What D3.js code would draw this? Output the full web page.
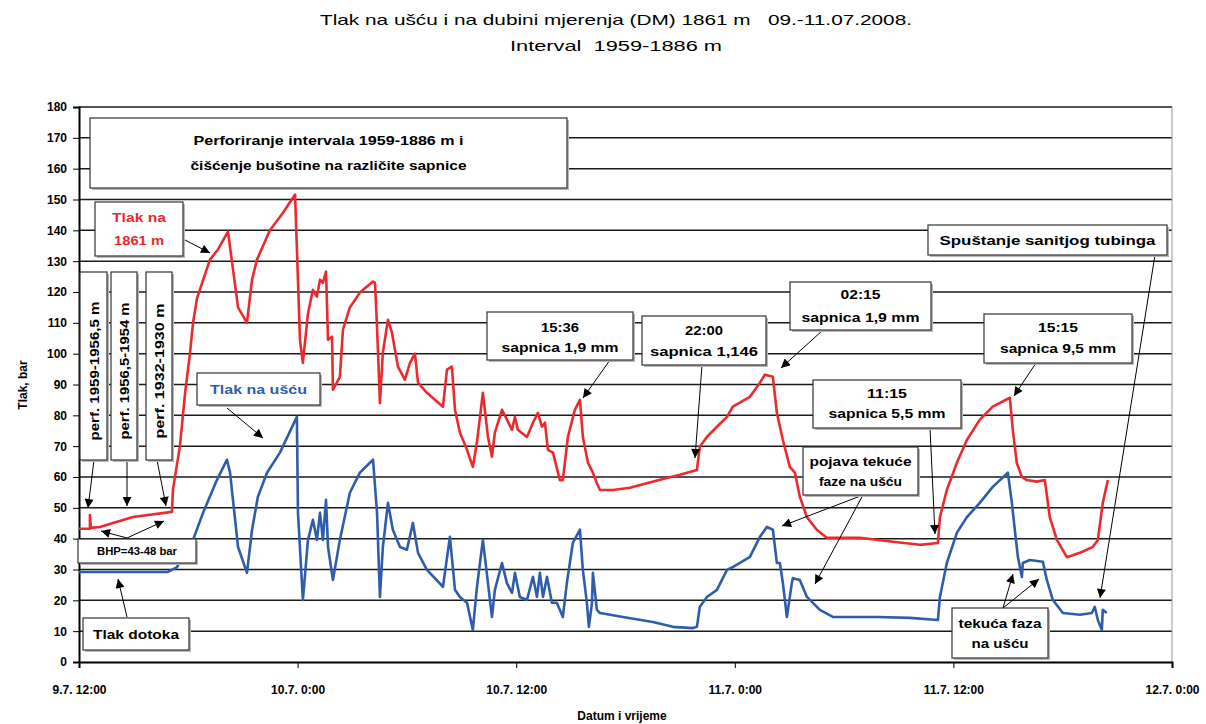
<!DOCTYPE html>
<html>
<head>
<meta charset="utf-8">
<script src="https://cdn.jsdelivr.net/npm/d3@7"></script>
<style>
body { margin: 0; background: #fff; }
text { font-family: "Liberation Sans", Arial, sans-serif; }
</style>
</head>
<body>
<svg id="chart" width="1206" height="724"></svg>
<script>
// hours after 9.7.2008 12:00, pressure in bar
var redHours = [0, 0.6, 0.6, 0.65, 1.15, 2.96, 5.1, 5.16, 5.54, 5.82, 6.09, 6.26, 6.48, 7.19, 7.63, 8.18, 8.73, 9.22, 9.5, 9.77,
  10.48, 11.2, 11.86, 12.02, 12.13, 12.29, 12.57, 12.84, 13.06, 13.23, 13.39, 13.56, 13.67, 13.89, 13.94, 14.32, 14.49, 14.87, 15.42, 16.14,
  16.25, 16.36, 16.52, 16.68, 16.96, 17.18, 17.51, 17.89, 18.17, 18.44, 18.61, 19.1, 19.98, 20.2, 20.47, 20.64, 20.91, 21.3, 21.62, 21.84,
  22.17, 22.45, 22.67, 22.83, 23.22, 23.49, 23.77, 23.93, 24.09, 24.59, 24.92, 25.19, 25.41, 25.58, 25.74, 26.02, 26.4, 26.56, 26.84, 27.22,
  27.5, 27.66, 27.94, 28.21, 28.43, 28.6, 29.31, 30.24, 31.17, 32.27, 32.99, 33.92, 34.08, 34.47, 35.02, 35.57, 35.89, 36.83, 37.38, 37.65,
  38.09, 38.31, 38.64, 39.02, 39.3, 39.57, 39.96, 40.5, 41.05, 42.87, 44.68, 46.16, 47.15, 47.26, 47.64, 48.19, 48.74, 49.45, 50.16, 51.1,
  51.26, 51.48, 51.76, 52.03, 52.58, 53.02, 53.29, 53.68, 54.23, 54.94, 55.65, 55.93, 56.2, 56.48];
var redValues = [43.2, 43.2, 47.7, 43.5, 43.8, 47, 48.7, 56, 70, 87, 100, 110, 118, 130.5, 133.8, 139.6, 115, 110, 124, 130.5,
  140, 145.7, 151.6, 124, 104.5, 97, 113, 120.7, 118.5, 124, 123, 126.6, 104.5, 105.5, 88.3, 92.5, 107.8, 115, 119.8, 123.4,
  123, 108.8, 84, 100.3, 111, 106.8, 95.8, 91.6, 97, 100, 90.6, 87.3, 82.8, 94.8, 95.8, 81.8, 74.4, 68.8, 63.3, 71,
  87.3, 73, 66.6, 74.4, 81.8, 78.6, 75.3, 79.5, 75.3, 73, 77.6, 80.8, 76.3, 77.6, 68.8, 67.9, 59, 59, 73, 81.8,
  85, 73, 64.6, 61.4, 58, 55.8, 55.8, 56.5, 58, 59.7, 60.7, 62.3, 69.8, 73, 76.3, 79.5, 82.8, 86, 90.6, 93.2,
  92.5, 80.8, 72, 63.3, 61.4, 53.6, 47, 42.9, 40.3, 40.3, 39, 38, 38.6, 47, 55.8, 64.6, 72, 78.6, 82.8, 85.7,
  75.3, 64.6, 60, 59, 58.5, 59, 47, 39.6, 34, 35.4, 37.3, 39.6, 51.6, 59];

var blueHours = [0, 4.88, 5.38, 6.26, 6.81, 7.57, 8.12, 8.29, 8.73, 9.22, 9.5, 9.82, 10.32, 11.03, 11.96, 12.02, 12.29, 12.57, 12.84, 13.06,
  13.23, 13.39, 13.56, 13.67, 13.94, 14.32, 14.87, 15.42, 16.14, 16.36, 16.52, 16.68, 16.96, 17.23, 17.62, 18.0, 18.33, 18.61, 19.1, 19.98,
  20.36, 20.64, 20.91, 21.3, 21.62, 21.84, 22.17, 22.45, 22.67, 22.83, 23.22, 23.49, 23.77, 23.93, 24.2, 24.59, 24.92, 25.14, 25.3, 25.47,
  25.69, 25.96, 26.23, 26.56, 26.78, 27.11, 27.5, 27.66, 27.88, 27.99, 28.16, 28.21, 28.43, 28.6, 29.86, 31.5, 32.6, 33.7, 33.92, 34.08,
  34.47, 35.02, 35.57, 35.89, 36.83, 37.38, 37.76, 38.09, 38.31, 38.47, 38.64, 38.86, 39.13, 39.19, 39.57, 39.96, 40.67, 41.38, 43.8, 45.61,
  47.15, 47.26, 47.64, 48.19, 48.74, 49.45, 50.16, 50.99, 51.21, 51.37, 51.54, 51.76, 51.81, 52.19, 52.91, 53.13, 53.46, 54.01, 54.94, 55.6,
  55.76, 55.93, 56.15, 56.2, 56.42];
var blueValues = [29.2, 29.2, 30.8, 39.6, 48.4, 59, 65.6, 61.5, 37.3, 28.9, 42.9, 53.6, 61.4, 67.9, 79.5, 48.4, 20.1, 39.6, 46.1, 39.6,
  48.4, 39.6, 52.6, 37.3, 26.6, 39.6, 54.9, 61.4, 65.6, 48.4, 21.1, 37.3, 51.6, 42.9, 37.3, 36.4, 45.1, 35.4, 29.9, 24.4,
  40.6, 23.4, 21.1, 19.2, 10.4, 24, 39.6, 25.6, 14.6, 23.4, 32.1, 25.6, 22.4, 28.9, 21.1, 20.1, 27.6, 21.1, 28.9, 21.1,
  27.6, 19.2, 19.2, 14.6, 25.6, 38.6, 42.9, 29.9, 19.2, 11.4, 19.2, 28.9, 16.9, 15.9, 14.6, 13, 11.4, 11, 11.4, 17.9,
  21.1, 23.4, 29.9, 30.8, 34.1, 40.6, 43.8, 42.9, 32.1, 32.1, 25.6, 14.6, 25.6, 27.2, 26.6, 21.1, 16.9, 14.6, 14.6, 14.3,
  13.6, 21.1, 32.1, 41.9, 47, 51.6, 56.8, 61.4, 51.6, 42.9, 34.1, 27.6, 32.1, 33.1, 32.5, 26.6, 20.1, 15.9, 15.3, 15.9,
  17.9, 13.6, 10.4, 16.9, 15.9];

var yTicks = d3.range(0, 181, 10);
var xTickLabels = ["9.7. 12:00", "10.7. 0:00", "10.7. 12:00", "11.7. 0:00", "11.7. 12:00", "12.7. 0:00"];
var titleLines = ["Tlak na ušću i na dubini mjerenja (DM) 1861 m   09.-11.07.2008.", "Interval  1959-1886 m"];

var start = new Date(2008, 6, 9, 12, 0);
function hourDate(h) { return new Date(start.getTime() + h * 3600000); }

var svg = d3.select("#chart");
var x = d3.scaleTime().domain([start, new Date(2008, 6, 12, 0, 0)]).range([79, 1172]);
var y = d3.scaleLinear().domain([0, 180]).range([662, 107]);

// title
svg.selectAll(".title").data(titleLines).enter().append("text")
  .attr("x", 616).attr("y", function(d, i) { return 25 + i * 26; })
  .attr("text-anchor", "middle").attr("font-size", 15)
  .style("white-space", "pre")
  .attr("textLength", function(d, i) { return i == 0 ? 592 : 212; })
  .attr("lengthAdjust", "spacingAndGlyphs")
  .text(function(d) { return d; });

// grid
svg.append("g").selectAll("line").data(yTicks.slice(1)).enter().append("line")
  .attr("x1", 79).attr("x2", 1172)
  .attr("y1", function(d) { return y(d); }).attr("y2", function(d) { return y(d); })
  .attr("stroke", "#1a1a1a").attr("stroke-width", 1.5);
svg.append("line").attr("x1", 1172).attr("x2", 1172).attr("y1", y(180)).attr("y2", y(0))
  .attr("stroke", "#999").attr("stroke-width", 1);

// axes
var yAxis = d3.axisLeft(y).tickValues(yTicks).tickSize(6).tickFormat(d3.format("d"));
var gy = svg.append("g").attr("transform", "translate(79,0)").call(yAxis);
gy.select(".domain").attr("stroke-width", 2);
gy.selectAll("text").attr("font-size", 12).attr("font-weight", "bold").attr("dx", "-3")
  .style("font-family", "'Liberation Sans', Arial, sans-serif");

var xTicks = d3.range(0, 61, 12).map(hourDate);
var xAxis = d3.axisBottom(x).tickValues(xTicks).tickSize(6)
  .tickFormat(function(d, i) { return xTickLabels[i]; });
var gx = svg.append("g").attr("transform", "translate(0,662)").call(xAxis);
gx.select(".domain").attr("stroke-width", 2);
gx.selectAll("text").attr("font-size", 12).attr("font-weight", "bold").attr("dy", "1.9em")
  .style("font-family", "'Liberation Sans', Arial, sans-serif");

svg.append("text").attr("x", 622).attr("y", 720).attr("text-anchor", "middle")
  .attr("font-size", 12).attr("font-weight", "bold").text("Datum i vrijeme");
svg.append("text").attr("transform", "translate(27,385) rotate(-90)").attr("text-anchor", "middle")
  .attr("font-size", 12).attr("font-weight", "bold").text("Tlak, bar");

// series
var line = d3.line().x(function(d) { return x(hourDate(d[0])); }).y(function(d) { return y(d[1]); });
var redData = d3.zip(redHours, redValues);
var blueData = d3.zip(blueHours, blueValues);
svg.append("path").datum(blueData).attr("d", line).attr("fill", "none")
  .attr("stroke", "#2f5dac").attr("stroke-width", 2.6).attr("stroke-linejoin", "round");
svg.append("path").datum(redData).attr("d", line).attr("fill", "none")
  .attr("stroke", "#ec2a2e").attr("stroke-width", 2.6).attr("stroke-linejoin", "round");

// annotations
svg.append("defs").append("marker").attr("id", "arr")
  .attr("viewBox", "0 0 10 10").attr("refX", 10).attr("refY", 5)
  .attr("markerWidth", 11).attr("markerHeight", 9).attr("markerUnits", "userSpaceOnUse")
  .attr("orient", "auto")
  .append("path").attr("d", "M0,0L10,5L0,10Z").attr("fill", "#000");

var arrows = [
  [185, 240, 210, 253], [94, 460, 88, 508], [127, 460, 127, 506], [157, 460, 166, 506],
  [127, 538, 101, 531], [127, 538, 164, 521], [127, 617, 118, 579], [227, 408, 263, 438],
  [610, 360, 583, 398], [702, 365, 695, 458], [823, 330, 781, 368], [1155, 255, 1100, 598],
  [1036, 363, 1014, 396], [930, 428, 935, 534], [863, 495, 782, 526], [863, 495, 815, 584],
  [1003, 608, 1013, 574], [1003, 608, 1039, 579]
];

var boxes = [
  { x: 90, y: 118, w: 477, h: 70, lines: ["Perforiranje intervala 1959-1886 m i", "čišćenje bušotine na različite sapnice"], ly: [145, 170], lw: [270, 276] },
  { x: 95, y: 202, w: 88, h: 54, lines: ["Tlak na", "1861 m"], ly: [222, 245], lw: [54, 50], color: "#ec2a2e" },
  { x: 197, y: 373, w: 123, h: 32, lines: ["Tlak na ušću"], ly: [394], lw: [97], color: "#2f5dac" },
  { x: 487, y: 312, w: 146, h: 48, lines: ["15:36", "sapnica 1,9 mm"], ly: [332, 352], lw: [38, 117] },
  { x: 642, y: 316, w: 124, h: 49, lines: ["22:00", "sapnica 1,146"], ly: [335, 356], lw: [38, 108] },
  { x: 790, y: 282, w: 141, h: 48, lines: ["02:15", "sapnica 1,9 mm"], ly: [299, 322], lw: [40, 118] },
  { x: 928, y: 225, w: 239, h: 30, lines: ["Spuštanje sanitjog tubinga"], ly: [245], lw: [216] },
  { x: 984, y: 314, w: 148, h: 49, lines: ["15:15", "sapnica 9,5 mm"], ly: [332, 353], lw: [40, 116] },
  { x: 813, y: 380, w: 148, h: 48, lines: ["11:15", "sapnica 5,5 mm"], ly: [398, 418], lw: [40, 117] },
  { x: 803, y: 447, w: 115, h: 48, lines: ["pojava tekuće", "faze na ušću"], ly: [466, 486], lw: [102, 83] },
  { x: 952, y: 608, w: 96, h: 50, lines: ["tekuća faza", "na ušću"], ly: [628, 648], lw: [83, 57] },
  { x: 78, y: 539, w: 118, h: 24, lines: ["BHP=43-48 bar"], ly: [555], lw: [80], size: 10 },
  { x: 83, y: 618, w: 106, h: 32, lines: ["Tlak dotoka"], ly: [639], lw: [86] }
];

var vboxes = [
  { x: 80, w: 27, text: "perf. 1959-1956,5 m", len: 139 },
  { x: 111, w: 26, text: "perf. 1956,5-1954 m", len: 137 },
  { x: 146, w: 26, text: "perf. 1932-1930 m", len: 135 }
];

var ag = svg.append("g");
arrows.forEach(function(a) {
  ag.append("line").attr("x1", a[0]).attr("y1", a[1]).attr("x2", a[2]).attr("y2", a[3])
    .attr("stroke", "#000").attr("stroke-width", 1).attr("marker-end", "url(#arr)");
});

function drawBox(bx, by, bw, bh) {
  ag.append("rect").attr("x", bx + 2).attr("y", by + 2).attr("width", bw).attr("height", bh).attr("fill", "#b8b8b8");
  ag.append("rect").attr("x", bx).attr("y", by).attr("width", bw).attr("height", bh)
    .attr("fill", "#fff").attr("stroke", "#333").attr("stroke-width", 1.2);
}

boxes.forEach(function(b) {
  drawBox(b.x, b.y, b.w, b.h);
  b.lines.forEach(function(t, i) {
    ag.append("text").attr("x", b.x + b.w / 2).attr("y", b.ly[i]).attr("text-anchor", "middle")
      .attr("font-size", b.size || 12).attr("font-weight", "bold").attr("fill", b.color || "#000")
      .attr("textLength", b.lw[i]).attr("lengthAdjust", "spacingAndGlyphs").text(t);
  });
});

vboxes.forEach(function(b) {
  drawBox(b.x, 272, b.w, 188);
  ag.append("text").attr("transform", "translate(" + (b.x + b.w / 2 + 5) + "," + 371 + ") rotate(-90)")
    .attr("text-anchor", "middle").attr("font-size", 13).attr("font-weight", "bold")
    .attr("textLength", b.len).attr("lengthAdjust", "spacingAndGlyphs").text(b.text);
});
</script>
</body>
</html>
